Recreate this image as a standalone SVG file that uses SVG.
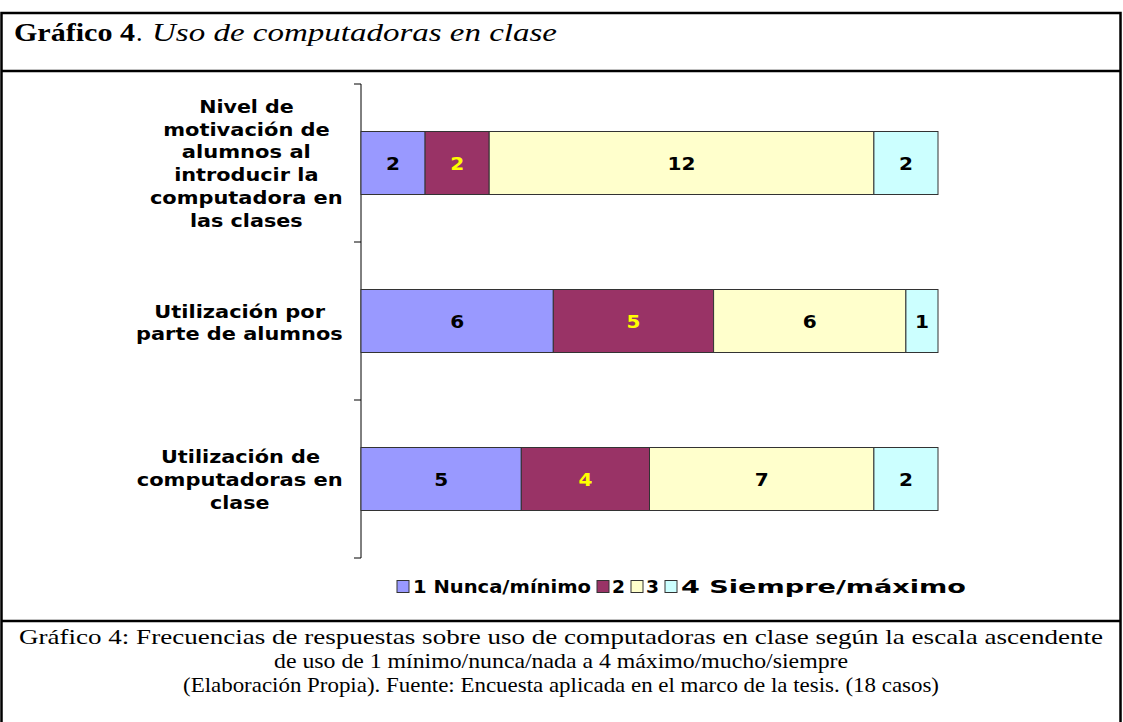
<svg xmlns="http://www.w3.org/2000/svg" width="1123" height="722" viewBox="0 0 1123 722">
<style>
.frame{fill:none;stroke:#000;stroke-width:2.5}
.ttl{font-family:"Liberation Serif","Times New Roman",serif;font-size:26px;fill:#000}
.cap{font-family:"Liberation Serif","Times New Roman",serif;font-size:22px;fill:#000;text-anchor:middle}
.lbl{font-family:"DejaVu Sans",Verdana,sans-serif;font-weight:bold;font-size:17px;fill:#000;text-anchor:middle}
.val{font-family:"DejaVu Sans",Verdana,sans-serif;font-weight:bold;font-size:17px;text-anchor:middle}
.seg{stroke:#333;stroke-width:1}
.c1{fill:#9999FF}.c2{fill:#993366}.c3{fill:#FFFFCC}.c4{fill:#CCFFFF}
.dk{fill:#000}.yl{fill:#FFFF00}
.axis{stroke:#000;stroke-width:1;fill:none}
.leg{font-family:"DejaVu Sans",Verdana,sans-serif;font-weight:bold;font-size:17px;fill:#000}
</style>
<rect x="0" y="0" width="1123" height="722" fill="#fff"/>
<g id="frame">
<rect class="frame" x="1.5" y="13" width="1119" height="730"/>
<line class="frame" x1="1.5" y1="71" x2="1120.5" y2="71"/>
<line class="frame" x1="1.5" y1="621" x2="1120.5" y2="621"/>
</g>
<g id="title">
<text class="ttl" x="14" y="41" font-weight="bold" textLength="121" lengthAdjust="spacingAndGlyphs">Gráfico 4</text>
<text class="ttl" x="136" y="41">.</text>
<text class="ttl" x="152" y="41" font-style="italic" textLength="405" lengthAdjust="spacingAndGlyphs">Uso de computadoras en clase</text>
</g>
<g id="axis">
<path class="axis" d="M361,84 V558 M354,84 H361 M354,242 H361 M354,400 H361 M354,558 H361"/>
</g>
<g id="cat1">
<text class="lbl" x="246.5" y="112.7" textLength="94.7" lengthAdjust="spacingAndGlyphs">Nivel de</text>
<text class="lbl" x="246.5" y="135.5" textLength="166.7" lengthAdjust="spacingAndGlyphs">motivación de</text>
<text class="lbl" x="246.3" y="158.3" textLength="129" lengthAdjust="spacingAndGlyphs">alumnos al</text>
<text class="lbl" x="246.3" y="181.1" textLength="144.3" lengthAdjust="spacingAndGlyphs">introducir la</text>
<text class="lbl" x="246.3" y="203.9" textLength="192.7" lengthAdjust="spacingAndGlyphs">computadora en</text>
<text class="lbl" x="246.3" y="226.7" textLength="112.7" lengthAdjust="spacingAndGlyphs">las clases</text>
</g>
<g id="cat2">
<text class="lbl" x="239.7" y="317.7" textLength="170.7" lengthAdjust="spacingAndGlyphs">Utilización por</text>
<text class="lbl" x="239.4" y="340.3" textLength="206.7" lengthAdjust="spacingAndGlyphs">parte de alumnos</text>
</g>
<g id="cat3">
<text class="lbl" x="240.5" y="463.3" textLength="159" lengthAdjust="spacingAndGlyphs">Utilización de</text>
<text class="lbl" x="239.7" y="486" textLength="206" lengthAdjust="spacingAndGlyphs">computadoras en</text>
<text class="lbl" x="239.7" y="508.7" textLength="59.3" lengthAdjust="spacingAndGlyphs">clase</text>
</g>
<g id="bar1">
<rect class="seg c1" x="361" y="131.5" width="64.1" height="63"/>
<rect class="seg c2" x="425.1" y="131.5" width="64.1" height="63"/>
<rect class="seg c3" x="489.2" y="131.5" width="384.7" height="63"/>
<rect class="seg c4" x="873.9" y="131.5" width="64.1" height="63"/>
<text class="val dk" x="393" y="169.7" textLength="14" lengthAdjust="spacingAndGlyphs">2</text>
<text class="val yl" x="457.2" y="169.7" textLength="14" lengthAdjust="spacingAndGlyphs">2</text>
<text class="val dk" x="681.6" y="169.7" textLength="28" lengthAdjust="spacingAndGlyphs">12</text>
<text class="val dk" x="906" y="169.7" textLength="14" lengthAdjust="spacingAndGlyphs">2</text>
</g>
<g id="bar2">
<rect class="seg c1" x="361" y="289.5" width="192.3" height="63"/>
<rect class="seg c2" x="553.3" y="289.5" width="160.3" height="63"/>
<rect class="seg c3" x="713.6" y="289.5" width="192.3" height="63"/>
<rect class="seg c4" x="905.9" y="289.5" width="32.1" height="63"/>
<text class="val dk" x="457.2" y="327.7" textLength="14" lengthAdjust="spacingAndGlyphs">6</text>
<text class="val yl" x="633.5" y="327.7" textLength="14" lengthAdjust="spacingAndGlyphs">5</text>
<text class="val dk" x="809.8" y="327.7" textLength="14" lengthAdjust="spacingAndGlyphs">6</text>
<text class="val dk" x="922" y="327.7" textLength="14" lengthAdjust="spacingAndGlyphs">1</text>
</g>
<g id="bar3">
<rect class="seg c1" x="361" y="447.5" width="160.3" height="63"/>
<rect class="seg c2" x="521.3" y="447.5" width="128.2" height="63"/>
<rect class="seg c3" x="649.5" y="447.5" width="224.4" height="63"/>
<rect class="seg c4" x="873.9" y="447.5" width="64.1" height="63"/>
<text class="val dk" x="441.2" y="485.7" textLength="14" lengthAdjust="spacingAndGlyphs">5</text>
<text class="val yl" x="585.4" y="485.7" textLength="14" lengthAdjust="spacingAndGlyphs">4</text>
<text class="val dk" x="761.7" y="485.7" textLength="14" lengthAdjust="spacingAndGlyphs">7</text>
<text class="val dk" x="906" y="485.7" textLength="14" lengthAdjust="spacingAndGlyphs">2</text>
</g>
<g id="legend">
<rect class="seg c1" x="397" y="580.5" width="12" height="12"/>
<text class="leg" x="413" y="592.5" textLength="178" lengthAdjust="spacingAndGlyphs">1 Nunca/mínimo</text>
<rect class="seg c2" x="597" y="580.5" width="12" height="12"/>
<text class="leg" x="612" y="592.5" textLength="13" lengthAdjust="spacingAndGlyphs">2</text>
<rect class="seg c3" x="631" y="580.5" width="12" height="12"/>
<text class="leg" x="646" y="592.5" textLength="13" lengthAdjust="spacingAndGlyphs">3</text>
<rect class="seg c4" x="665" y="580.5" width="12" height="12"/>
<text class="leg" x="681" y="592.5" textLength="285" lengthAdjust="spacingAndGlyphs">4 Siempre/máximo</text>
</g>
<g id="caption">
<text class="cap" x="561" y="644" textLength="1084" lengthAdjust="spacingAndGlyphs">Gráfico 4:  Frecuencias de respuestas sobre uso de computadoras en clase  según la escala ascendente</text>
<text class="cap" x="561" y="668" textLength="574" lengthAdjust="spacingAndGlyphs">de uso de 1 mínimo/nunca/nada a 4 máximo/mucho/siempre</text>
<text class="cap" x="561" y="692" textLength="756" lengthAdjust="spacingAndGlyphs">(Elaboración Propia). Fuente: Encuesta aplicada en el marco de la tesis. (18 casos)</text>
</g>
</svg>
